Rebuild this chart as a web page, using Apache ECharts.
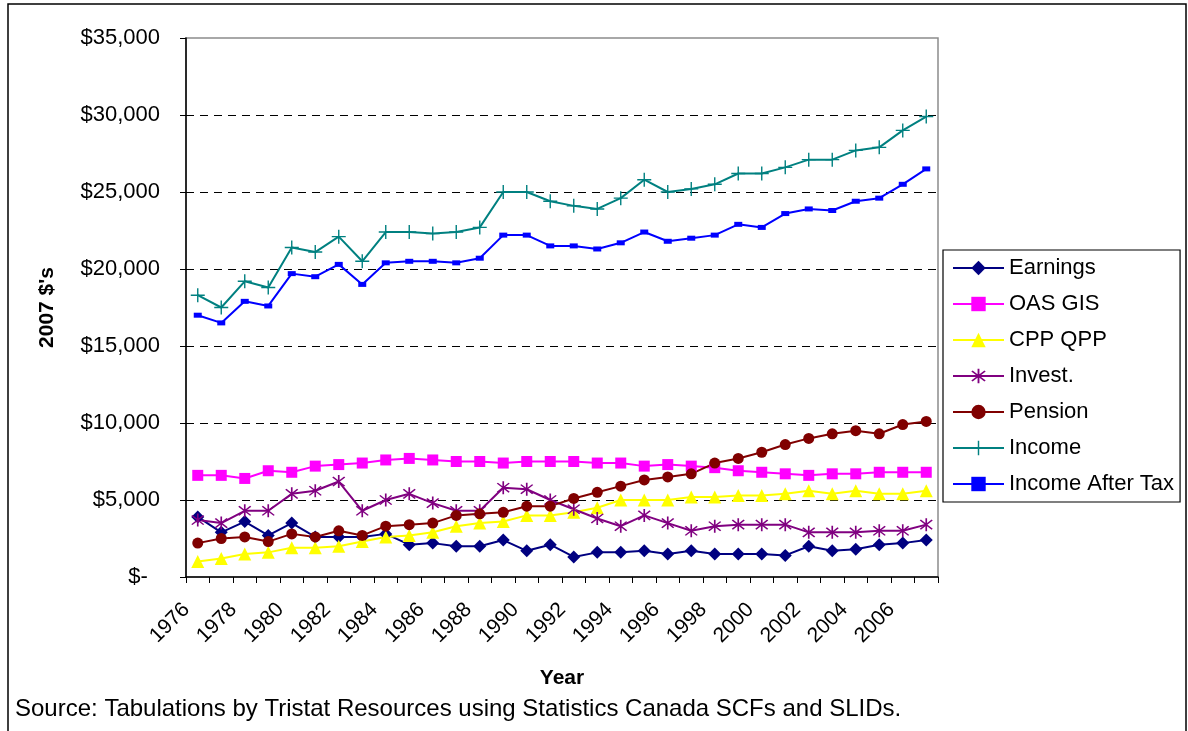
<!DOCTYPE html>
<html>
<head>
<meta charset="utf-8">
<script src="https://cdn.jsdelivr.net/npm/echarts@6/dist/echarts.min.js"></script>
<style>
  html, body { margin: 0; padding: 0; background: #ffffff; }
  #chart { width: 1188px; height: 731px; }
</style>
</head>
<body>
<div id="chart"></div>
<script>
// Senior income components, 1976-2007, in constant 2007 dollars
const years = ['1976','1977','1978','1979','1980','1981','1982','1983','1984','1985','1986','1987','1988','1989','1990','1991',
               '1992','1993','1994','1995','1996','1997','1998','1999','2000','2001','2002','2003','2004','2005','2006','2007'];

const earnings = [3900,2900,3600,2700,3500,2600,2600,2600,2800,2100,2200,2000,2000,2400,1700,2100,
                  1300,1600,1600,1700,1500,1700,1500,1500,1500,1400,2000,1700,1800,2100,2200,2400];
const oasGis   = [6600,6600,6400,6900,6800,7200,7300,7400,7600,7700,7600,7500,7500,7400,7500,7500,
                  7500,7400,7400,7200,7300,7200,7100,6900,6800,6700,6600,6700,6700,6800,6800,6800];
const cppQpp   = [1000,1200,1500,1600,1900,1900,2000,2300,2600,2700,2900,3300,3500,3600,4000,4000,
                  4200,4500,5000,5000,5000,5200,5200,5300,5300,5400,5600,5400,5600,5400,5400,5600];
const invest   = [3700,3500,4300,4300,5400,5600,6200,4300,5000,5400,4800,4300,4300,5800,5700,5000,
                  4400,3800,3300,4000,3500,3000,3300,3400,3400,3400,2900,2900,2900,3000,3000,3400];
const pension  = [2200,2500,2600,2300,2800,2600,3000,2700,3300,3400,3500,4000,4100,4200,4600,4600,
                  5100,5500,5900,6300,6500,6700,7400,7700,8100,8600,9000,9300,9500,9300,9900,10100];
const income   = [18300,17500,19200,18800,21400,21100,22100,20500,22400,22400,22300,22400,22700,25000,25000,24400,
                  24100,23900,24600,25800,25000,25200,25500,26200,26200,26600,27100,27100,27700,27900,29000,29900];
const afterTax = [17000,16500,17900,17600,19700,19500,20300,19000,20400,20500,20500,20400,20700,22200,22200,21500,
                  21500,21300,21700,22400,21800,22000,22200,22900,22700,23600,23900,23800,24400,24600,25500,26500];

const yTicks = { min: 0, max: 35000, step: 5000 };
const sourceNote = 'Source: Tabulations by Tristat Resources using Statistics Canada SCFs and SLIDs.';

const FONT = '"Liberation Sans", Arial, sans-serif';

// Marker shapes: asterisk (X with a vertical bar) and plus, built from filled bars
const ASTERISK = 'path://M-0.6,-6 L0.6,-6 L0.6,6 L-0.6,6 Z ' +
  'M-4.66,-3.82 L-3.82,-4.66 L4.66,3.82 L3.82,4.66 Z ' +
  'M-3.82,4.66 L-4.66,3.82 L3.82,-4.66 L4.66,-3.82 Z';
const PLUS = 'path://M-0.7,-7 L0.7,-7 L0.7,7 L-0.7,7 Z M-7,-0.7 L7,-0.7 L7,0.7 L-7,0.7 Z';

function lineSeries(name, data, color, symbol, size) {
  return {
    name: name,
    type: 'line',
    data: data,
    symbol: symbol,
    symbolSize: size,
    showAllSymbol: true,
    lineStyle: { color: color, width: 2 },
    itemStyle: { color: color, borderWidth: 0 },
    emphasis: { disabled: true }
  };
}

const chart = echarts.init(document.getElementById('chart'), null, { renderer: 'canvas' });

chart.setOption({
  animation: false,
  backgroundColor: '#ffffff',
  grid: {
    left: 186, right: 250, top: 38, bottom: 154,
    show: true, borderColor: '#8c8c8c', borderWidth: 1.5, backgroundColor: 'transparent'
  },
  xAxis: {
    type: 'category',
    data: years,
    boundaryGap: true,
    name: 'Year',
    nameLocation: 'middle',
    nameGap: 91,
    nameTextStyle: { fontFamily: FONT, fontSize: 21, fontWeight: 'bold', color: '#000' },
    axisLine: { lineStyle: { color: '#000', width: 1.5 } },
    axisTick: { show: true, interval: 0, length: 6, lineStyle: { color: '#000', width: 1 } },
    axisLabel: {
      interval: 1, rotate: 45, margin: 18, padding: [0, 16, 0, 0],
      fontFamily: FONT, fontSize: 21, color: '#000'
    },
    splitLine: { show: false }
  },
  yAxis: {
    type: 'value',
    min: yTicks.min, max: yTicks.max, interval: yTicks.step,
    name: "2007 $'s",
    nameLocation: 'middle',
    nameRotate: 90,
    nameGap: 128,
    nameTextStyle: { fontFamily: FONT, fontSize: 21, fontWeight: 'bold', color: '#000' },
    axisLine: { show: true, lineStyle: { color: '#000', width: 1.5 } },
    axisTick: { show: true, length: 6, lineStyle: { color: '#000', width: 1 } },
    axisLabel: {
      margin: 26, fontFamily: FONT, fontSize: 22, color: '#000',
      formatter: function (v) {
        return v === 0 ? '$-  ' : '$' + v.toLocaleString('en-US');
      }
    },
    splitLine: {
      show: true, showMaxLine: false, showMinLine: false,
      lineStyle: { color: '#000', width: 1, type: [8, 6] }
    }
  },
  legend: {
    orient: 'vertical',
    left: 943, top: 250,
    padding: [7, 6, 7, 9],
    itemWidth: 51, itemHeight: 18, itemGap: 14,
    borderColor: '#000', borderWidth: 1.2,
    textStyle: { fontFamily: FONT, fontSize: 22, color: '#000', lineHeight: 22 },
    selectedMode: false,
    data: ['Earnings', 'OAS GIS', 'CPP QPP', 'Invest.', 'Pension', 'Income', 'Income After Tax']
  },
  series: [
    lineSeries('Earnings', earnings, '#000080', 'diamond', 13),
    lineSeries('OAS GIS', oasGis, '#ff00ff', 'rect', 11),
    lineSeries('CPP QPP', cppQpp, '#ffff00', 'triangle', 13),
    lineSeries('Invest.', invest, '#800080', ASTERISK, 13),
    lineSeries('Pension', pension, '#800000', 'circle', 11),
    lineSeries('Income', income, '#008080', PLUS, 14),
    lineSeries('Income After Tax', afterTax, '#0000ff', 'rect', [8, 5])
  ],
  graphic: [
    {
      type: 'rect', silent: true,
      shape: { x: 8, y: 4, width: 1178, height: 740 },
      style: { fill: 'none', stroke: '#000', lineWidth: 1.5 }
    },
    {
      type: 'text', silent: true,
      left: 15, top: 697,
      style: { text: sourceNote, fontFamily: FONT, fontSize: 24, fill: '#000' }
    }
  ]
});
</script>
</body>
</html>
